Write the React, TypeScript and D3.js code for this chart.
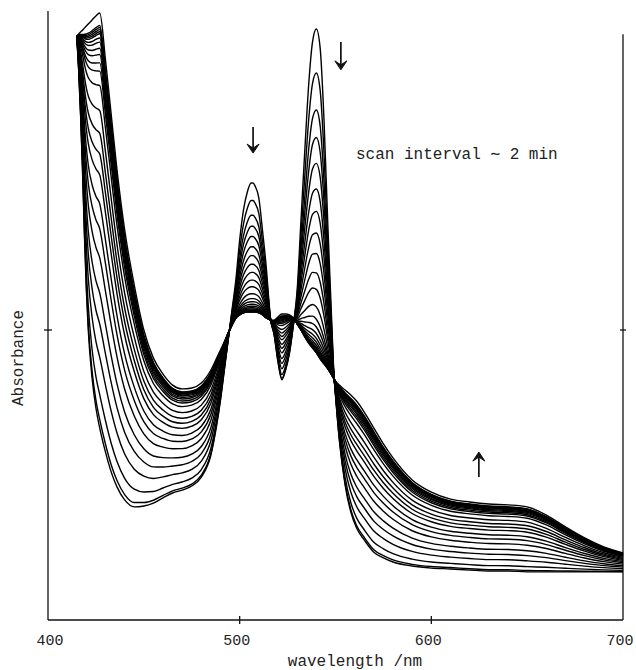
import React from "react";
import * as d3 from "d3";

// wavelength grid (nm)
const WAVELENGTHS = [
  415, 416, 417, 418, 419, 420, 421, 423, 425, 427, 430, 433, 436, 440, 445, 450,
  455, 460, 465, 470, 475, 480, 485, 488, 490, 492, 494, 496, 498, 500, 502, 504,
  506, 507, 508, 510, 512, 514, 515, 516, 518, 520, 522, 524, 526, 528, 530, 532,
  534, 536, 538, 540, 542, 544, 546, 548, 549, 550, 552, 555, 558, 561, 565, 570,
  575, 580, 590, 600, 610, 620, 630, 640, 650, 660, 670, 680, 690, 700,
];

// first scan (absorbance, arbitrary units)
const INITIAL_ABS = [
  2.014, 1.897, 1.741, 1.552, 1.328, 1.138, 1.0, 0.834, 0.731, 0.662, 0.579, 0.51, 0.459, 0.414, 0.39, 0.393,
  0.403, 0.421, 0.438, 0.448, 0.462, 0.493, 0.569, 0.672, 0.759, 0.862, 0.966, 1.069, 1.172, 1.31, 1.414, 1.476,
  1.507, 1.507, 1.497, 1.455, 1.338, 1.207, 1.121, 1.045, 0.983, 0.89, 0.828, 0.862, 0.921, 1.017, 1.138, 1.379,
  1.621, 1.845, 1.993, 2.038, 1.972, 1.724, 1.362, 1.034, 0.869, 0.776, 0.621, 0.466, 0.372, 0.317, 0.276, 0.234,
  0.214, 0.2, 0.186, 0.179, 0.176, 0.172, 0.169, 0.169, 0.166, 0.166, 0.166, 0.166, 0.166, 0.166,
];

// last scan
const FINAL_ABS = [
  2.014, 2.021, 2.028, 2.034, 2.041, 2.048, 2.055, 2.069, 2.083, 2.093, 1.931, 1.741, 1.552, 1.345, 1.155, 1.0,
  0.903, 0.848, 0.81, 0.797, 0.8, 0.817, 0.862, 0.903, 0.931, 0.959, 0.99, 1.017, 1.041, 1.052, 1.059, 1.062,
  1.062, 1.062, 1.062, 1.059, 1.052, 1.041, 1.038, 1.034, 1.034, 1.045, 1.055, 1.055, 1.052, 1.041, 1.021, 1.0,
  0.976, 0.955, 0.938, 0.921, 0.9, 0.883, 0.866, 0.845, 0.834, 0.824, 0.81, 0.793, 0.776, 0.755, 0.717, 0.662,
  0.607, 0.559, 0.483, 0.441, 0.417, 0.407, 0.4, 0.397, 0.39, 0.362, 0.321, 0.283, 0.252, 0.231,
];

const DECAY_PROGRESS = [
  0, 0.136, 0.25, 0.335, 0.415, 0.494, 0.563, 0.63, 0.693, 0.753, 0.804, 0.858, 0.896,
  0.92, 0.94, 0.955, 0.967, 0.976, 0.983, 0.988, 0.992, 0.995, 0.997, 0.998, 0.999, 1.0,
];
const GROWTH_PROGRESS = [
  0, 0.02, 0.08, 0.17, 0.25, 0.325, 0.41, 0.48, 0.54, 0.61, 0.66, 0.71, 0.765,
  0.825, 0.86, 0.88, 0.9, 0.915, 0.93, 0.94, 0.95, 0.955, 0.96, 0.965, 0.97, 1.0,
];

const X_TICKS = [400, 500, 600, 700];
const Y_TICKS = [1];

const FONT = "'Liberation Mono', 'Courier New', monospace";

export default function App() {
  const W = 636;
  const H = 670;
  const x = d3.scaleLinear().domain([400, 700]).range([48, 623]);
  const y = d3.scaleLinear().domain([0, 2]).range([620, 40]);

  const scans = DECAY_PROGRESS.map((dk, k) =>
    WAVELENGTHS.map((w, i) => {
      const a = INITIAL_ABS[i];
      const c = FINAL_ABS[i];
      const f = c > a ? GROWTH_PROGRESS[k] : dk;
      return [w, a + f * (c - a)] as [number, number];
    })
  );

  const line = d3
    .line<[number, number]>()
    .x((d) => x(d[0]))
    .y((d) => y(d[1]))
    .curve(d3.curveMonotoneX);

  const x0 = x(400);
  const x1 = x(700);
  const yb = y(0);

  const arrow = (ax: number, yTail: number, yTip: number, key: string) => {
    const dir = yTip > yTail ? 1 : -1;
    return (
      <g key={key} stroke="#111" strokeWidth={1.7} strokeLinejoin="miter">
        <line x1={ax} x2={ax} y1={yTail} y2={yTip - dir * 2} />
        <path
          d={`M${ax - 6},${yTip - dir * 9} L${ax},${yTip} L${ax + 6},${yTip - dir * 9} L${ax},${yTip - dir * 5} Z`}
          fill="#111"
          strokeWidth={1}
        />
      </g>
    );
  };

  return (
    <svg
      width={W}
      height={H}
      style={{ position: "absolute", left: 0, top: 0, background: "#fff" }}
    >
      <rect x={0} y={0} width={W} height={H} fill="#fff" />
      {/* frame */}
      <g stroke="#111" strokeWidth={1.3} fill="none">
        <line x1={x0} x2={x0} y1={y(2.1)} y2={yb} />
        <line x1={x0} x2={x1} y1={yb} y2={yb} />
        <line x1={x1} x2={x1} y1={y(2.02)} y2={yb} />
        {X_TICKS.slice(1, 3).map((t) => (
          <line key={t} x1={x(t)} x2={x(t)} y1={yb - 4} y2={yb + 4} />
        ))}
        {Y_TICKS.map((t) => (
          <g key={t}>
            <line x1={x0 - 4} x2={x0 + 4} y1={y(t)} y2={y(t)} />
            <line x1={x1 - 3} x2={x1 + 3} y1={y(t)} y2={y(t)} />
          </g>
        ))}
      </g>

      {/* spectra */}
      <g fill="none" stroke="#000" strokeWidth={1.4} strokeLinejoin="round">
        {scans.map((s, k) => (
          <path key={k} d={line(s) || ""} />
        ))}
      </g>

      {/* tick labels */}
      <g fontFamily={FONT} fontSize={15} fill="#222" textAnchor="middle">
        {X_TICKS.map((t) => (
          <text key={t} x={x(t) + (t === 400 ? 2 : -3)} y={645}>
            {t}
          </text>
        ))}
      </g>

      <text
        x={355}
        y={666}
        fontFamily={FONT}
        fontSize={16}
        fill="#222"
        textAnchor="middle"
      >
        wavelength /nm
      </text>
      <text
        transform={`translate(23, ${358}) rotate(-90)`}
        fontFamily={FONT}
        fontSize={16}
        fill="#222"
        textAnchor="middle"
      >
        Absorbance
      </text>
      <text
        x={x(560.7)}
        y={y(1.59)}
        fontFamily={FONT}
        fontSize={16}
        fill="#222"
      >
        scan interval ∼ 2 min
      </text>

      {arrow(x(507), y(1.7), y(1.61), "a1")}
      {arrow(x(552.8), y(1.993), y(1.897), "a2")}
      {arrow(x(624.8), y(0.493), y(0.579), "a3")}
    </svg>
  );
}
